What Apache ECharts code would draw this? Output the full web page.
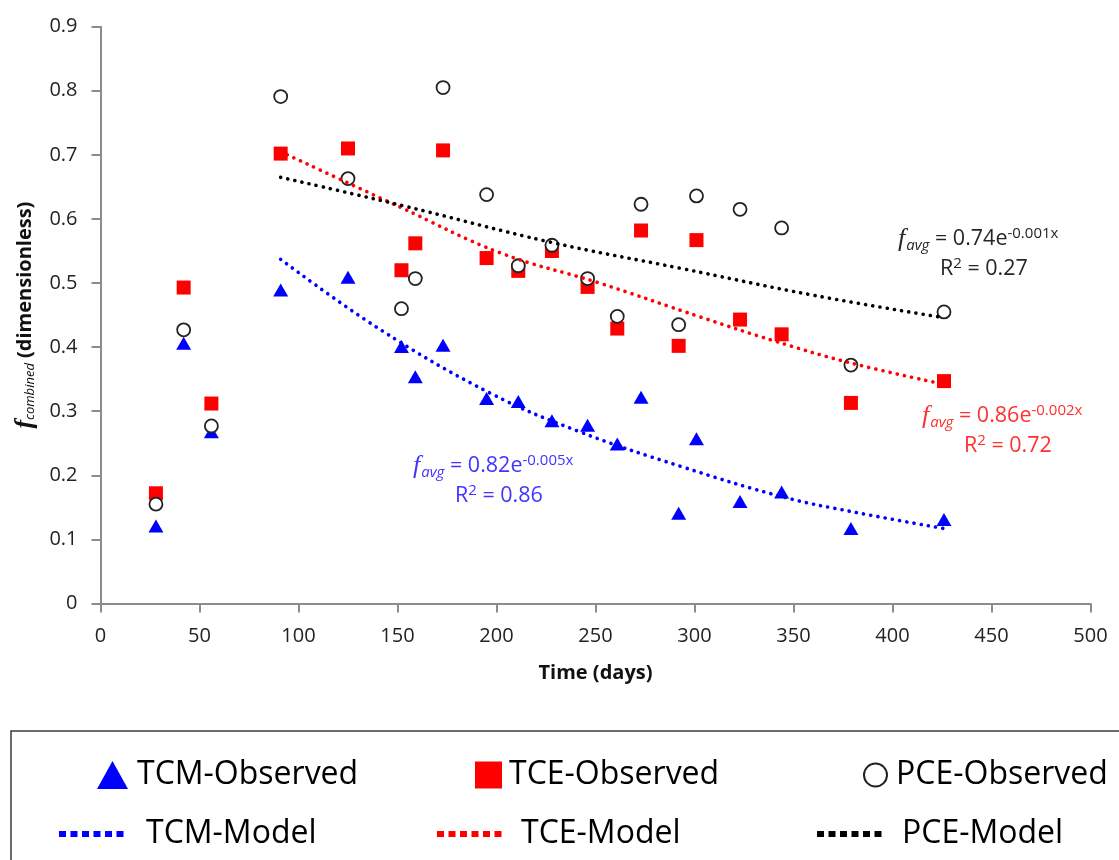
<!DOCTYPE html>
<html>
<head>
<meta charset="utf-8">
<script src="https://cdn.jsdelivr.net/npm/echarts@6/dist/echarts.min.js"></script>
<style>
  html, body { margin: 0; padding: 0; background: #ffffff; }
  #chart { width: 1119px; height: 860px; }
</style>
</head>
<body>
<div id="chart"></div>
<script>
// Sampling days (shared by the three observed series)
const days = [28, 42, 56, 91, 125, 152, 159, 173, 195, 211, 228, 246, 261, 273, 292, 301, 323, 344, 379, 426];

// Observed combined fraction per compound
const tcmObserved = [0.121, 0.406, 0.268, 0.489, 0.509, 0.401, 0.354, 0.403, 0.320, 0.315, 0.285, 0.278, 0.249, 0.322, 0.141, 0.257, 0.159, 0.174, 0.117, 0.131];
const tceObserved = [0.172, 0.493, 0.312, 0.702, 0.710, 0.520, 0.562, 0.707, 0.539, 0.519, 0.550, 0.494, 0.429, 0.582, 0.402, 0.567, 0.443, 0.420, 0.313, 0.347];
const pceObserved = [0.155, 0.427, 0.277, 0.791, 0.663, 0.460, 0.507, 0.805, 0.638, 0.527, 0.559, 0.507, 0.448, 0.623, 0.435, 0.636, 0.615, 0.586, 0.372, 0.455];

// Exponential model curves (day, value)
const tcmModel = [[91, 0.537], [141, 0.428], [197, 0.328], [242, 0.268], [294, 0.213], [345, 0.166], [380, 0.143], [426, 0.117]];
const tceModel = [[91, 0.705], [151, 0.619], [202, 0.547], [252, 0.500], [303, 0.447], [340, 0.410], [378, 0.376], [426, 0.342]];
const pceModel = [[91, 0.665], [151, 0.622], [227, 0.564], [293, 0.523], [360, 0.481], [426, 0.446]];

// Axis ranges
const xRange = { min: 0, max: 500, interval: 50 };
const yRange = { min: 0, max: 0.9, interval: 0.1 };

const FONT = "'Open Sans', 'Noto Sans', sans-serif";
const SERIF = "'Liberation Serif', 'DejaVu Serif', serif";
const BLUE = '#0000ff', RED = '#ff0000', BLACK = '#000000';
const TEXT = '#222222';
const AXIS = '#8c8c8c';

const pairs = (vals) => days.map((d, i) => [d, vals[i]]);

const dotted = (color) => ({ color: color, width: 3.6, type: [0.1, 7.2], cap: 'round', opacity: 1 });

const chart = echarts.init(document.getElementById('chart'), null, { renderer: 'canvas' });

function eq(color, coef, expo, r2) {
  return {
    text: '{f|f}{s|avg}{n| = ' + coef + 'e}{p|' + expo + '}\n{g|R}{q|2}{n| = ' + r2 + '}',
    rich: {
      f: { fill: color, fontFamily: SERIF, fontStyle: 'italic', fontSize: 26, verticalAlign: 'middle', lineHeight: 30 },
      s: { fill: color, fontFamily: FONT, fontStyle: 'italic', fontSize: 15, verticalAlign: 'middle', padding: [13, 0, 0, 1] },
      n: { fill: color, fontFamily: FONT, fontSize: 21.5, verticalAlign: 'middle', lineHeight: 30 },
      p: { fill: color, fontFamily: FONT, fontSize: 15, verticalAlign: 'middle', padding: [0, 0, 11, 0] },
      g: { fill: color, fontFamily: FONT, fontSize: 21.5, verticalAlign: 'middle', lineHeight: 30, padding: [0, 0, 0, 42] },
      q: { fill: color, fontFamily: FONT, fontSize: 15, verticalAlign: 'middle', padding: [0, 0, 11, 0] }
    },
    align: 'left',
    verticalAlign: 'top'
  };
}

const legendText = (padLeft) => ({ fontFamily: FONT, fontSize: 32, color: '#000', lineHeight: 36, padding: [0, 0, 0, padLeft] });

function legendFor(item, left, top, w, h, padLeft, extra) {
  return Object.assign({
    data: [item],
    left: left,
    top: top,
    padding: 0,
    itemWidth: w,
    itemHeight: h,
    selectedMode: false,
    textStyle: legendText(padLeft)
  }, extra || {});
}

const modelLegendStyle = {
  lineStyle: { width: 6, type: [7, 4.5], cap: 'butt', opacity: 1 },
  itemStyle: { opacity: 0 }
};

const option = {
  animation: false,
  backgroundColor: '#ffffff',
  grid: { left: 100.5, right: 28.5, top: 26.7, bottom: 256.5, containLabel: false },
  xAxis: {
    type: 'value',
    min: xRange.min, max: xRange.max, interval: xRange.interval,
    name: 'Time (days)',
    nameLocation: 'middle',
    nameGap: 60,
    nameTextStyle: { fontFamily: FONT, fontWeight: 'bold', fontSize: 20, color: '#111' },
    axisLine: { show: true, lineStyle: { color: AXIS, width: 2 } },
    axisTick: { show: true, length: 9, lineStyle: { color: AXIS, width: 2 } },
    axisLabel: { fontFamily: FONT, fontSize: 20, color: TEXT, margin: 23 },
    splitLine: { show: false }
  },
  yAxis: {
    type: 'value',
    min: yRange.min, max: yRange.max, interval: yRange.interval,
    name: '{f|f}{s|combined}{b| (dimensionless)}',
    nameLocation: 'middle',
    nameRotate: 90,
    nameGap: 60,
    nameTextStyle: {
      rich: {
        f: { fontFamily: SERIF, fontStyle: 'italic', fontWeight: 'bold', fontSize: 26, color: '#111', verticalAlign: 'middle', lineHeight: 28 },
        s: { fontFamily: FONT, fontStyle: 'italic', fontSize: 13, color: '#111', verticalAlign: 'middle', padding: [10, 0, 0, 0] },
        b: { fontFamily: FONT, fontWeight: 'bold', fontSize: 20, color: '#111', verticalAlign: 'middle', lineHeight: 28 }
      }
    },
    axisLine: { show: true, lineStyle: { color: AXIS, width: 2 } },
    axisTick: { show: true, length: 9, lineStyle: { color: AXIS, width: 2 } },
    axisLabel: { fontFamily: FONT, fontSize: 20, color: TEXT, margin: 23 },
    splitLine: { show: false }
  },
  legend: [
    legendFor({ name: 'TCM-Observed', icon: 'triangle' }, 97, 757, 31, 28, 4),
    legendFor({ name: 'TCE-Observed', icon: 'rect' }, 475, 757, 27, 27, 2),
    legendFor({ name: 'PCE-Observed', icon: 'circle' }, 863, 757, 23, 23, 4),
    legendFor({ name: 'TCM-Model' }, 56, 816, 68, 12, 14, modelLegendStyle),
    legendFor({ name: 'TCE-Model' }, 434, 816, 68, 12, 11, modelLegendStyle),
    legendFor({ name: 'PCE-Model' }, 814, 816, 68, 12, 12, modelLegendStyle)
  ],
  graphic: [
    // legend frame
    { type: 'rect', silent: true, shape: { x: 11, y: 731, width: 1200, height: 200 }, style: { fill: 'none', stroke: '#3c3c3c', lineWidth: 1.5 } },
    // fitted equations
    { type: 'text', left: 898, top: 226, style: eq('#262626', '0.74', '-0.001x', '0.27') },
    { type: 'text', left: 922, top: 403, style: eq('#ff3030', '0.86', '-0.002x', '0.72') },
    { type: 'text', left: 413, top: 453, style: eq('#4433ff', '0.82', '-0.005x', '0.86') }
  ],
  series: [
    {
      name: 'TCM-Observed', type: 'scatter', symbol: 'triangle', symbolSize: [15, 13],
      itemStyle: { color: BLUE, opacity: 1 }, data: pairs(tcmObserved)
    },
    {
      name: 'TCE-Observed', type: 'scatter', symbol: 'rect', symbolSize: 14,
      itemStyle: { color: RED, opacity: 1 }, data: pairs(tceObserved)
    },
    {
      name: 'PCE-Observed', type: 'scatter', symbol: 'circle', symbolSize: 13,
      itemStyle: { color: '#ffffff', borderColor: '#222222', borderWidth: 1.8, opacity: 1 }, data: pairs(pceObserved)
    },
    {
      name: 'TCM-Model', type: 'line', smooth: 0.4, symbol: 'none',
      itemStyle: { color: BLUE }, lineStyle: dotted(BLUE), data: tcmModel
    },
    {
      name: 'TCE-Model', type: 'line', smooth: 0.4, symbol: 'none',
      itemStyle: { color: RED }, lineStyle: dotted(RED), data: tceModel
    },
    {
      name: 'PCE-Model', type: 'line', smooth: 0.4, symbol: 'none',
      itemStyle: { color: BLACK }, lineStyle: dotted(BLACK), data: pceModel
    }
  ]
};

chart.setOption(option);
</script>
</body>
</html>
